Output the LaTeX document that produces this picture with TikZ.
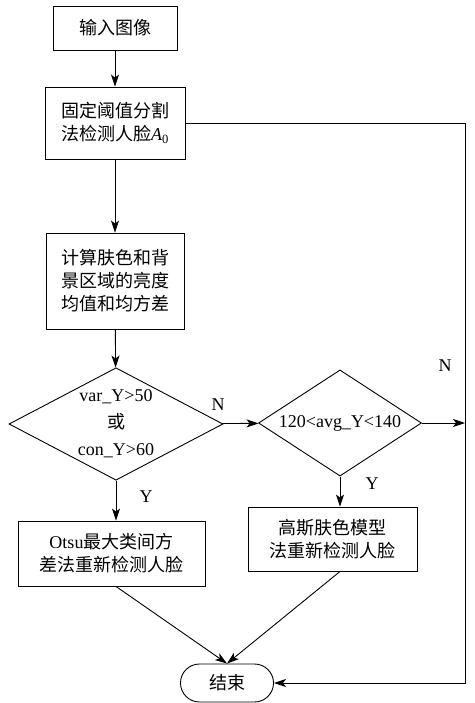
\documentclass[tikz,border=0pt]{standalone}
\usepackage{fontspec}
\setmainfont{Liberation Serif}
\newfontfamily\zh{Noto Sans CJK SC}
\usetikzlibrary{shapes.geometric, arrows.meta}

\begin{document}
\begin{tikzpicture}[x=1pt, y=-1pt, line width=0.9pt,
    >={Stealth[length=12pt, width=8pt, inset=3pt]},
    box/.style={draw, rectangle, align=center, font=\fontsize{18}{23}\selectfont\zh},
    cond/.style={draw, diamond, align=center, inner sep=-8pt, font=\fontsize{18}{27}\selectfont},
    lbl/.style={font=\fontsize{18}{20}\selectfont}]
    \useasboundingbox (0,0) rectangle (474,703);
    \node[box, minimum width=124pt, minimum height=44pt] (input) at (115,28) {输入图像};
    \node[box, minimum width=140pt, minimum height=72pt] (seg) at (115,123) {固定阈值分割\\法检测人脸{\rmfamily\itshape A}\textsubscript{\rmfamily 0}};
    \node[box, minimum width=138pt, minimum height=96pt] (stat) at (115,281) {计算肤色和背\\景区域的亮度\\均值和均方差};
    \node[cond, minimum width=214pt, minimum height=100pt] (var) at (116,424) {var\_Y>50\\{\zh 或}\\con\_Y>60};
    \node[cond, minimum width=163pt, minimum height=74pt] (lum) at (340,423) {120<avg\_Y<140};
    \node[box, minimum width=187pt, minimum height=65pt] (otsu) at (111.5,553.5) {{\rmfamily Otsu}最大类间方\\差法重新检测人脸};
    \node[box, minimum width=169pt, minimum height=64pt] (gauss) at (332.5,539) {高斯肤色模型\\法重新检测人脸};
    \node[box, rounded corners=19pt, minimum width=93pt, minimum height=38pt] (finish) at (227,683) {结束};
    \coordinate (rim) at (465,0);
    \node[lbl] (n1) at (218,405) {N};
    \node[lbl] (n2) at (445,366) {N};
    \node[lbl] (y1) at (146,497) {Y};
    \node[lbl] (y2) at (372,484) {Y};
    \draw[->] (input) -- (seg);
    \draw[->] (seg) -- (stat);
    \draw[->] (stat) -- (var);
    \draw[->] (var) -- (lum);
    \draw[->] (lum.east) -- (lum.east -| rim);
    \draw[->] (var.south) -- (var.south |- otsu.north);
    \draw[->] (lum.south) -- (lum.south |- gauss.north);
    \draw[->] (otsu.south -| var.south) -- (finish.north);
    \draw[->] (gauss.south -| lum.south) -- (finish.north);
    \draw[->] (seg.east) -- (seg.east -| rim) -- (rim |- finish.east) -- (finish.east);
\end{tikzpicture}
\end{document}
